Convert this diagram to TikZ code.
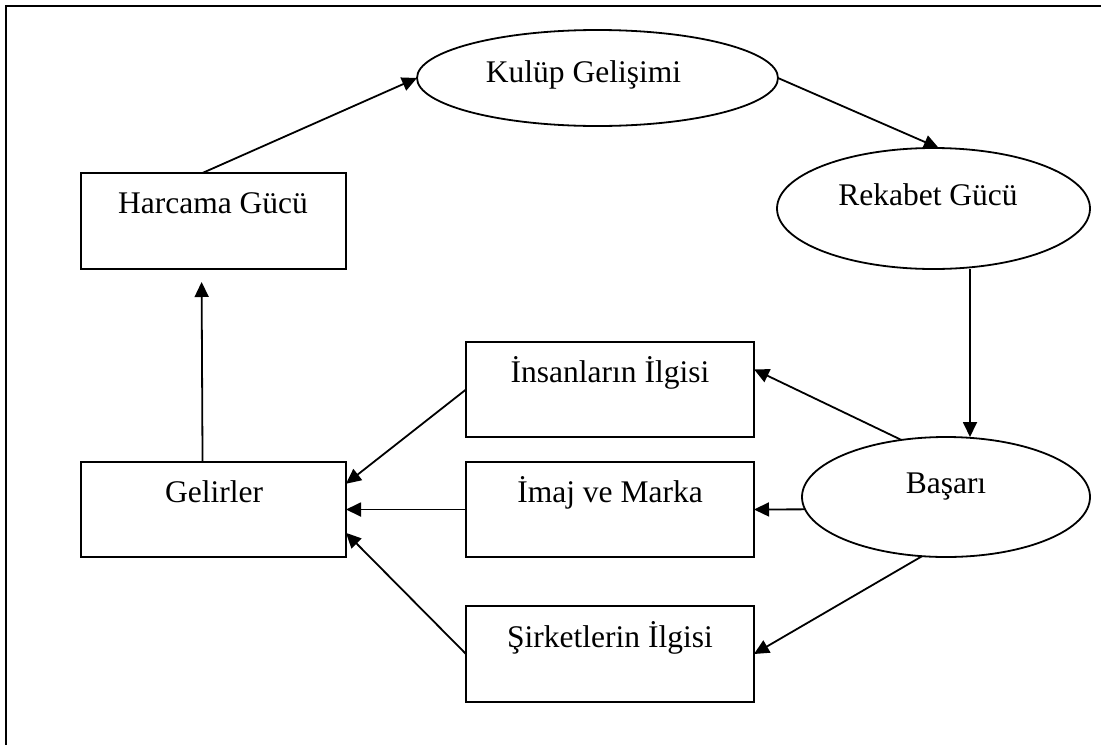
\documentclass[tikz,border=0pt]{standalone}
\usepackage{fontspec}
\setmainfont{Liberation Serif}
\usetikzlibrary{shapes.geometric,arrows.meta}

\tikzset{
  shape line/.style={draw=black, line width=1.8pt, inner sep=0pt, outer sep=0pt},
  boxnode/.style={shape line, rectangle, minimum width=#1, minimum height=95pt},
  ovalnode/.style={shape line, ellipse},
  caption/.style={anchor=base, inner sep=0pt, font=\fontsize{31.5}{38}\selectfont},
  flow/.style={line width=1.8pt, -{Triangle[length=15pt,width=14pt]}},
  frame line/.style={line width=2.7pt}
}

\begin{document}
\begin{tikzpicture}[x=1pt,y=-1pt]
  \useasboundingbox (0,0) rectangle (1101,745);

  % open frame: top and left edges only
  \draw[frame line] (1101,6) -- (6,6) -- (6,745);

  % rectangles
  \node[boxnode=265pt, minimum height=96pt] (harc) at (213.5,221) {};
  \node[boxnode=265pt] (gel)  at (213.5,509.5) {};
  \node[boxnode=288pt] (ins)  at (610,389.5) {};
  \node[boxnode=288pt] (ima)  at (610,509.5) {};
  \node[boxnode=288pt, minimum height=96pt] (sir)  at (610,654) {};

  % ellipses
  \node[ovalnode, minimum width=361pt, minimum height=96pt]  (kul) at (597.5,78) {};
  \node[ovalnode, minimum width=313pt, minimum height=121pt] (rek) at (933.5,208.5) {};
  \node[ovalnode, minimum width=288pt, minimum height=120pt] (bas) at (946,497) {};

  % labels, set in the upper part of each shape
  \node[caption] (tharc) at (213,213)   {Harcama Gücü};
  \node[caption] (tkul)  at (583.5,82)  {Kulüp Gelişimi};
  \node[caption] (trek)  at (928,205)   {Rekabet Gücü};
  \node[caption] (tbas)  at (946,493)   {Başarı};
  \node[caption] (tins)  at (610,382)   {İnsanların İlgisi};
  \node[caption] (tima)  at (610,502)   {İmaj ve Marka};
  \node[caption] (tsir)  at (610,647)   {Şirketlerin İlgisi};
  \node[caption] (tgel)  at (214,502)   {Gelirler};

  % cycle
  \draw[flow] (harc.103.5) -- (kul.west);
  \draw[flow] (kul.east) -- (rek.85.7);
  \coordinate (col) at (970,0);
  \draw[flow] (rek.south -| col) -- (bas.north -| col);

  % effects of success
  \draw[flow] (bas.128) -- (ins.8.9);
  \draw[flow] (bas.185) -- (ima.east);
  \draw[flow] (bas.248) -- (sir.east);

  % income sources
  \draw[flow] (ins.west) -- (gel.11.3);
  \draw[flow] (ima.west) -- (gel.east);
  \draw[flow] (sir.west) -- (gel.-10.9);

  % income back to spending power
  \draw[flow, shorten >=13pt] (gel.103.6) -- (harc.256.5);
\end{tikzpicture}
\end{document}
